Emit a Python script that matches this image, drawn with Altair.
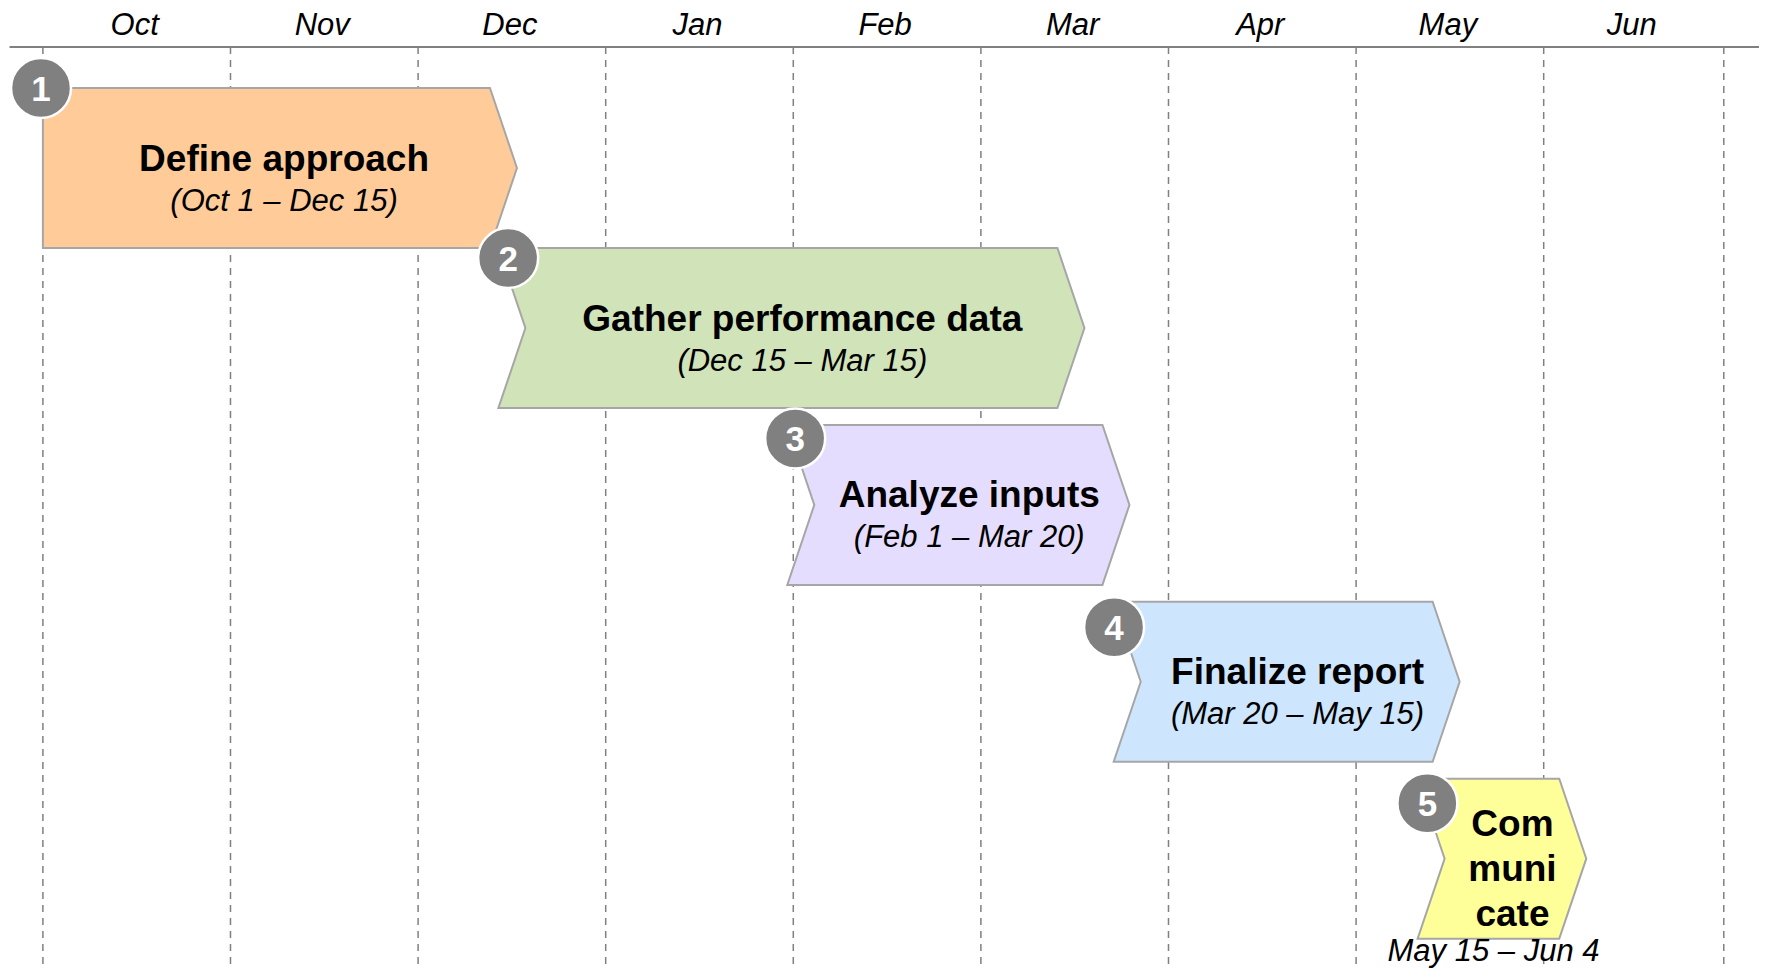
import altair as alt
import pandas as pd

# ---------------- data ----------------
months = ["Oct", "Nov", "Dec", "Jan", "Feb", "Mar", "Apr", "May", "Jun"]
# month boundaries, in months after Oct 1 (last boundary drawn a bit short)
month_bounds = [0, 1, 2, 3, 4, 5, 6, 7, 8, 8.96]

steps = ["1", "2", "3", "4", "5"]
tasks = ["Define approach", "Gather performance data", "Analyze inputs",
         "Finalize report", "Communicate"]
task_lines = [["Define approach"], ["Gather performance data"], ["Analyze inputs"],
              ["Finalize report"], ["Com", "muni", "cate"]]
date_texts = ["(Oct 1 \u2013 Dec 15)", "(Dec 15 \u2013 Mar 15)", "(Feb 1 \u2013 Mar 20)",
              "(Mar 20 \u2013 May 15)", "May 15 \u2013 Jun 4"]
# drawn start / end of each chevron, in months after Oct 1
start_m = [0.0, 2.50, 4.04, 5.78, 7.40]
end_m = [2.455, 5.48, 5.72, 7.48, 8.155]
lanes = [0, 1, 2, 3, 4]
badge_x = [-0.01, 2.48, 4.01, 5.71, 7.38]
badge_y = [0.0, 1.0625, 2.19, 3.37, 4.47]
fills = ["#FFCC99", "#D1E3B8", "#E5DDFE", "#CDE6FE", "#FFFF99"]

# ---------------- layout constants ----------------
W, H = 1751, 961
PX = 160.0                      # pixels per lane unit
X_DOM = [-0.186, 9.1477]
Y_DOM = [-0.5, -0.5 + H / PX]
DEPTH = 0.144                   # chevron point depth, months
LANE_GAP = 0.1055
AXIS_Y = -0.256
MONTH_LABEL_Y = -0.331
FONT = "Liberation Sans"

xs = alt.Scale(domain=X_DOM, nice=False, zero=False)
ys = alt.Scale(domain=Y_DOM, nice=False, zero=False, reverse=True)


def lane_top(i):
    return i + LANE_GAP * max(i - 1, 0)


# chevron polygons as horizontal areas
shape_rows = []
for i, t in enumerate(tasks):
    top = lane_top(lanes[i])
    mid = top + 0.5
    bot = top + 1.0
    if i == 0:
        left, notch = start_m[i], start_m[i]
    else:
        left, notch = start_m[i] - DEPTH / 2, start_m[i] + DEPTH / 2
    corner, tip = end_m[i] - DEPTH / 2, end_m[i] + DEPTH / 2
    shape_rows += [
        {"task": t, "y": top, "x": left, "x2": corner},
        {"task": t, "y": mid, "x": notch, "x2": tip},
        {"task": t, "y": bot, "x": left, "x2": corner},
    ]
shapes_df = pd.DataFrame(shape_rows)

title_rows, sub_rows = [], []
for i, t in enumerate(tasks):
    top = lane_top(lanes[i])
    cx = (start_m[i] + end_m[i]) / 2
    lines = task_lines[i]
    if len(lines) == 1:
        title_rows.append({"x": cx + 0.058, "y": top + 82.5 / PX, "text": lines[0]})
        sub_rows.append({"x": cx + 0.058, "y": top + 122.5 / PX, "text": date_texts[i]})
    else:
        for k, ln in enumerate(lines):
            title_rows.append({"x": cx + 0.056, "y": top + (57 + 45 * k) / PX, "text": ln})
        sub_rows.append({"x": cx - 0.045, "y": Y_DOM[1] - 8.5 / PX, "text": date_texts[i]})
titles_df = pd.DataFrame(title_rows)
subs_df = pd.DataFrame(sub_rows)

badges_df = pd.DataFrame({"x": badge_x, "y": badge_y, "n": steps})

grid_df = pd.DataFrame({"x": month_bounds, "y": [AXIS_Y] * len(month_bounds),
                        "y2": [Y_DOM[1]] * len(month_bounds)})
mlab_df = pd.DataFrame({
    "x": [(month_bounds[k] + month_bounds[k + 1]) / 2 for k in range(len(months))],
    "y": [MONTH_LABEL_Y] * len(months),
    "m": months,
})
axis_df = pd.DataFrame({"x": [X_DOM[0] + 0.008], "x2": [X_DOM[1]], "y": [AXIS_Y]})

# ---------------- layers ----------------
grid = alt.Chart(grid_df).mark_rule(
    color="#808080", strokeWidth=1.5, strokeDash=[7, 6]
).encode(
    x=alt.X("x:Q", scale=xs, axis=None),
    y=alt.Y("y:Q", scale=ys, axis=None),
    y2="y2:Q",
)

axis_line = alt.Chart(axis_df).mark_rule(color="#808080", strokeWidth=2).encode(
    x=alt.X("x:Q", scale=xs, axis=None),
    x2="x2:Q",
    y=alt.Y("y:Q", scale=ys, axis=None),
)

month_labels = alt.Chart(mlab_df).mark_text(
    font=FONT, fontSize=31, fontStyle="italic", align="center",
    baseline="alphabetic", color="#000000", dx=-2
).encode(
    x=alt.X("x:Q", scale=xs, axis=None),
    y=alt.Y("y:Q", scale=ys, axis=None),
    text="m:N",
)

chevrons = alt.Chart(shapes_df).mark_area(
    orient="horizontal", stroke="#A6A6A6", strokeWidth=2, opacity=1,
    fillOpacity=1, interpolate="linear"
).encode(
    y=alt.Y("y:Q", scale=ys, axis=None),
    x=alt.X("x:Q", scale=xs, axis=None),
    x2="x2:Q",
    color=alt.Color("task:N", scale=alt.Scale(domain=tasks, range=fills), legend=None),
    detail="task:N",
)

badges = alt.Chart(badges_df).mark_point(
    shape="circle", filled=True, size=3600, fill="#808080", stroke="#FFFFFF",
    strokeWidth=2.5, opacity=1
).encode(
    x=alt.X("x:Q", scale=xs, axis=None),
    y=alt.Y("y:Q", scale=ys, axis=None),
)

badge_nums = alt.Chart(badges_df).mark_text(
    font=FONT, fontSize=35, fontWeight="bold", color="#FFFFFF",
    align="center", baseline="alphabetic", dy=13
).encode(
    x=alt.X("x:Q", scale=xs, axis=None),
    y=alt.Y("y:Q", scale=ys, axis=None),
    text="n:N",
)

titles = alt.Chart(titles_df).mark_text(
    font=FONT, fontSize=37, fontWeight="bold", color="#000000",
    align="center", baseline="alphabetic"
).encode(
    x=alt.X("x:Q", scale=xs, axis=None),
    y=alt.Y("y:Q", scale=ys, axis=None),
    text="text:N",
)

subs = alt.Chart(subs_df).mark_text(
    font=FONT, fontSize=31, fontStyle="italic", color="#000000",
    align="center", baseline="alphabetic"
).encode(
    x=alt.X("x:Q", scale=xs, axis=None),
    y=alt.Y("y:Q", scale=ys, axis=None),
    text="text:N",
)

chart = alt.layer(
    grid, axis_line, month_labels, chevrons, badges, badge_nums, titles, subs
).properties(
    width=W, height=H, padding=0,
    autosize=alt.AutoSizeParams(type="none"),
    background="#FFFFFF",
).configure_view(strokeWidth=0)

chart.save("out.html", embed_options={"renderer": "svg", "actions": False})
